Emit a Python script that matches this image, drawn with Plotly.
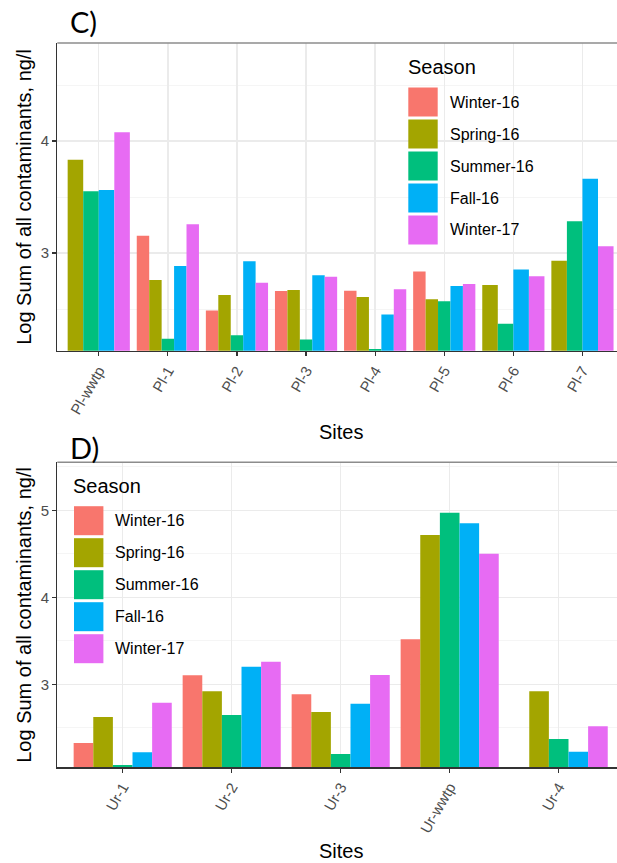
import plotly.graph_objects as go

W, H = 617, 863

seasons = ["Winter-16", "Spring-16", "Summer-16", "Fall-16", "Winter-17"]
season_colors = ["#F8766D", "#A3A500", "#00BF7D", "#00B0F6", "#E76BF3"]

# Panel C
sites_c = ["Pl-wwtp", "Pl-1", "Pl-2", "Pl-3", "Pl-4", "Pl-5", "Pl-6", "Pl-7"]
winter16_c = [None, 3.155, 2.488, 2.661, 2.664, 2.836, None, None]
spring16_c = [3.833, 2.759, 2.625, 2.670, 2.607, 2.587, 2.714, 2.931]
summer16_c = [3.551, 2.235, 2.265, 2.229, 2.143, 2.569, 2.369, 3.283]
fall16_c = [3.563, 2.884, 2.926, 2.801, 2.452, 2.705, 2.854, 3.664]
winter17_c = [4.078, 3.256, 2.735, 2.789, 2.676, 2.723, 2.792, 3.060]

# Panel D
sites_d = ["Ur-1", "Ur-2", "Ur-3", "Ur-wwtp", "Ur-4"]
winter16_d = [2.325, 3.103, 2.885, 3.517, None]
spring16_d = [2.624, 2.920, 2.682, 4.716, 2.920]
summer16_d = [2.072, 2.647, 2.199, 4.972, 2.371]
fall16_d = [2.218, 3.203, 2.777, 4.851, 2.225]
winter17_d = [2.789, 3.260, 3.107, 4.501, 2.517]

series_c = [winter16_c, spring16_c, summer16_c, fall16_c, winter17_c]
series_d = [winter16_d, spring16_d, summer16_d, fall16_d, winter17_d]

FONT = "Liberation Sans, Arial, sans-serif"
DODGE = 0.9


def px_x(p):
    return p / W


def px_y(p):
    return 1 - p / H


def dodge(series, preserve_slots):
    """ggplot-like position_dodge: returns offsets and widths per series."""
    nsites = len(series[0])
    nser = len(series)
    offs = [[0.0] * nsites for _ in range(nser)]
    wids = [[0.0] * nsites for _ in range(nser)]
    for j in range(nsites):
        present = [i for i in range(nser) if series[i][j] is not None]
        n = nser if preserve_slots else len(present)
        w = DODGE / n
        for i in range(nser):
            if preserve_slots:
                k = i
            else:
                k = present.index(i) if i in present else 0
            offs[i][j] = -DODGE / 2 + k * w
            wids[i][j] = w
    return offs, wids


fig = go.Figure()

off_c, wid_c = dodge(series_c, preserve_slots=False)
for i, s in enumerate(seasons):
    fig.add_trace(go.Bar(x=sites_c, y=series_c[i], offset=off_c[i], width=wid_c[i],
                         marker=dict(color=season_colors[i], line=dict(width=0)),
                         name=s, showlegend=False, xaxis="x", yaxis="y"))

off_d, wid_d = dodge(series_d, preserve_slots=True)
for i, s in enumerate(seasons):
    fig.add_trace(go.Bar(x=sites_d, y=series_d[i], offset=off_d[i], width=wid_d[i],
                         marker=dict(color=season_colors[i], line=dict(width=0)),
                         name=s, showlegend=False, xaxis="x2", yaxis="y2"))

# panel geometry (pixels)
left = 57.3
c_top, c_bot = 43.0, 350.7
d_top, d_bot = 462.3, 767.3

xcommon = dict(type="category", showgrid=True, gridcolor="#EBEBEB", gridwidth=1.3,
               ticks="outside", ticklen=4, tickwidth=1.2, tickcolor="#333333",
               tickangle=-60, tickfont=dict(family=FONT, size=15, color="#4D4D4D"),
               showline=True, linecolor="#333333", linewidth=1.3, zeroline=False,
               fixedrange=True)
ycommon = dict(showgrid=True, gridcolor="#EBEBEB", gridwidth=1.3, dtick=1, tick0=0,
               ticks="outside", ticklen=4, tickwidth=1.2, tickcolor="#333333",
               tickfont=dict(family=FONT, size=15, color="#4D4D4D"),
               showline=True, linecolor="#333333", linewidth=1.3, zeroline=False,
               minor=dict(dtick=0.5, tick0=0, showgrid=True, gridcolor="#F3F3F3",
                          gridwidth=0.8, ticks=""),
               fixedrange=True)

fig.update_layout(
    width=W, height=H,
    margin=dict(l=0, r=0, t=0, b=0),
    paper_bgcolor="white", plot_bgcolor="white",
    barmode="overlay",
    font=dict(family=FONT, color="black"),
    xaxis=dict(xcommon, domain=[px_x(left), 1], anchor="y",
               categoryorder="array", categoryarray=sites_c, range=[-0.6, 7.5]),
    yaxis=dict(ycommon, domain=[px_y(c_bot), px_y(c_top)], anchor="x",
               range=[2.128, 4.875]),
    xaxis2=dict(xcommon, domain=[px_x(left), 1], anchor="y2",
                categoryorder="array", categoryarray=sites_d, range=[-0.6, 4.535]),
    yaxis2=dict(ycommon, domain=[px_y(d_bot), px_y(d_top)], anchor="x2",
                range=[2.046, 5.552]),
)

shapes = []
annotations = []

# top borders
for top in (c_top, d_top):
    shapes.append(dict(type="line", xref="paper", yref="paper",
                       x0=px_x(left), x1=1, y0=px_y(top), y1=px_y(top),
                       line=dict(color="#8C8C8C", width=1.5), layer="above"))


def add_legend(box, title_xy, key_x, key_y0, label_x):
    x0, y0, x1, y1 = box
    shapes.append(dict(type="rect", xref="paper", yref="paper",
                       x0=px_x(x0), x1=px_x(x1), y0=px_y(y1), y1=px_y(y0),
                       fillcolor="white", line=dict(width=0), layer="between"))
    annotations.append(dict(text="Season", xref="paper", yref="paper",
                            x=px_x(title_xy[0]), y=px_y(title_xy[1]),
                            xanchor="left", yanchor="middle", showarrow=False,
                            font=dict(family=FONT, size=20, color="black")))
    for i, s in enumerate(seasons):
        cy = key_y0 + 32 * i
        shapes.append(dict(type="rect", xref="paper", yref="paper",
                           x0=px_x(key_x), x1=px_x(key_x + 29.4),
                           y0=px_y(cy + 14.5), y1=px_y(cy - 14.5),
                           fillcolor=season_colors[i], line=dict(width=0),
                           layer="above"))
        annotations.append(dict(text=s, xref="paper", yref="paper",
                                x=px_x(label_x), y=px_y(cy),
                                xanchor="left", yanchor="middle", showarrow=False,
                                font=dict(family=FONT, size=16, color="black")))


add_legend((397, 46, 544, 255), (405.5, 66.7), 408.3, 102.0, 447.5)
add_legend((left + 1, d_top + 1, 209.7, 675), (70.5, 486.0), 74.0, 520.7, 113.0)

# axis titles
for (cy, ytxt) in (((c_top + c_bot) / 2, 431.7), ((d_top + d_bot) / 2, 850.7)):
    annotations.append(dict(text="Log Sum of all contaminants, ng/l", xref="paper",
                            yref="paper", x=px_x(24), y=px_y(cy), textangle=-90,
                            xanchor="center", yanchor="middle", showarrow=False,
                            font=dict(family=FONT, size=20, color="black")))
    annotations.append(dict(text="Sites", xref="paper", yref="paper",
                            x=px_x(340.5), y=px_y(ytxt), xanchor="center",
                            yanchor="middle", showarrow=False,
                            font=dict(family=FONT, size=20, color="black")))

# panel labels
annotations.append(dict(text="C)", xref="paper", yref="paper", x=px_x(68), y=px_y(21),
                        xanchor="left", yanchor="middle", showarrow=False,
                        font=dict(family="Lato, Carlito, sans-serif", size=29, color="black")))
annotations.append(dict(text="D)", xref="paper", yref="paper", x=px_x(68), y=px_y(447.5),
                        xanchor="left", yanchor="middle", showarrow=False,
                        font=dict(family="Lato, Carlito, sans-serif", size=29, color="black")))

fig.update_layout(shapes=shapes, annotations=annotations)

fig.write_html("out.html",
               config={"displayModeBar": False, "staticPlot": True},
               post_script="document.body.style.margin='0';document.body.style.overflow='hidden';")
